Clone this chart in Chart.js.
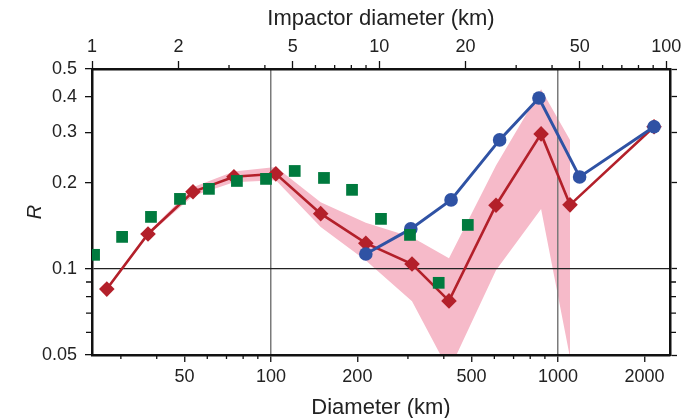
<!DOCTYPE html>
<html>
<head>
<meta charset="utf-8">
<script src="https://cdn.jsdelivr.net/npm/chart.js@4.4.1/dist/chart.umd.min.js"></script>
<style>
  html, body { margin: 0; padding: 0; background: #fff; }
</style>
</head>
<body>
<canvas id="chart" width="686" height="418"></canvas>
<script>
"use strict";

// red diamonds (with line)
const diamondDiameters = [26.8, 37.3, 53.5, 74.3, 104, 149, 214, 310, 417, 608, 873, 1101, 2160];
const diamondValues = [0.085, 0.1325, 0.186, 0.21, 0.215, 0.156, 0.123, 0.104, 0.0773, 0.167, 0.2965, 0.1675, 0.314];

// blue circles (with line)
const circleDiameters = [214, 307, 424, 626, 858, 1189, 2160];
const circleValues = [0.1128, 0.138, 0.1743, 0.2825, 0.396, 0.2097, 0.314];

// green squares (no line)
const squareDiameters = [24.2, 30.3, 38.2, 48.2, 60.8, 76.1, 96.1, 121, 153, 191.6, 241.7, 305, 384, 485];
const squareValues = [0.112, 0.1294, 0.152, 0.1757, 0.1905, 0.203, 0.2064, 0.22, 0.208, 0.189, 0.1496, 0.1315, 0.0894, 0.1425];

// pink range around the red curve
const bandDiameters = [37.3, 53.5, 74.3, 104, 149, 214, 310, 417, 608, 873, 1101];
const bandUpper = [0.134, 0.193, 0.219, 0.227, 0.171, 0.145, 0.129, 0.109, 0.23, 0.425, 0.282];
const bandLower = [0.131, 0.18, 0.201, 0.204, 0.14, 0.107, 0.077, 0.044, 0.099, 0.162, 0.049];

const diameterTicks = [50, 100, 200, 500, 1000, 2000];
const diameterMinorTicks = [30, 40, 60, 70, 80, 90, 300, 400, 600, 700, 800, 900];
const impactorTicks = [1, 2, 5, 10, 20, 50, 100];
const impactorMinorTicks = [3, 4, 6, 7, 8, 9, 30, 40, 60, 70, 80, 90];
const rTicks = [0.05, 0.1, 0.2, 0.3, 0.4, 0.5];
const rMinorTicks = [0.06, 0.07, 0.08, 0.09];

const red = "#b3202a";
const blue = "#2f52a4";
const green = "#007a3e";
const pink = "#f6bac9";
const font = "'Liberation Sans', Arial, sans-serif";

function toPoints(xs, ys) {
  return xs.map((x, i) => ({ x: x, y: ys[i] }));
}

function fixedTicks(values) {
  return scale => {
    scale.ticks = values.map(v => ({ value: v }));
  };
}

function fixedSize(prop, size) {
  return scale => {
    scale[prop] = size;
    scale.paddingLeft = scale.paddingRight = scale.paddingTop = scale.paddingBottom = 0;
  };
}

const minorTicksPlugin = {
  id: "minorTicks",
  afterDraw(chart) {
    const { ctx, chartArea, scales } = chart;
    const len = 4;

    ctx.save();
    ctx.strokeStyle = "#111";
    ctx.lineWidth = 1.3;
    ctx.beginPath();
    for (const v of diameterMinorTicks) {
      const x = scales.x.getPixelForValue(v);
      ctx.moveTo(x, chartArea.bottom);
      ctx.lineTo(x, chartArea.bottom + len);
    }
    for (const v of impactorMinorTicks) {
      const x = scales.x2.getPixelForValue(v);
      ctx.moveTo(x, chartArea.top);
      ctx.lineTo(x, chartArea.top - len);
    }
    for (const v of rMinorTicks) {
      const y = scales.y.getPixelForValue(v);
      ctx.moveTo(chartArea.left, y);
      ctx.lineTo(chartArea.left - len - 2, y);
      ctx.moveTo(chartArea.right, y);
      ctx.lineTo(chartArea.right + len + 2, y);
    }
    ctx.stroke();
    ctx.restore();
  }
};

const tickFont = { family: font, size: 18 };
const titleFont = { family: font, size: 22, lineHeight: 1 };
const borderStyle = { display: true, color: "#111", width: 2.5 };

const chart = new Chart(document.getElementById("chart").getContext("2d"), {
  type: "line",
  data: {
    datasets: [
      {
        data: toPoints(squareDiameters, squareValues),
        showLine: false,
        pointStyle: "rect",
        pointRadius: 8.3,
        pointBackgroundColor: green,
        pointBorderColor: green,
        pointBorderWidth: 0,
        order: 0
      },
      {
        data: toPoints(circleDiameters, circleValues),
        borderColor: blue,
        borderWidth: 3,
        pointStyle: "circle",
        pointRadius: 6.8,
        pointBackgroundColor: blue,
        pointBorderWidth: 0,
        order: 1
      },
      {
        data: toPoints(diamondDiameters, diamondValues),
        borderColor: red,
        borderWidth: 2.6,
        pointStyle: "rectRot",
        pointRadius: 7.8,
        pointBackgroundColor: red,
        pointBorderWidth: 0,
        order: 2
      },
      {
        data: toPoints(bandDiameters, bandUpper),
        borderColor: "rgba(0,0,0,0)",
        borderWidth: 0,
        pointRadius: 0,
        backgroundColor: pink,
        fill: "+1",
        order: 3
      },
      {
        data: toPoints(bandDiameters, bandLower),
        borderColor: "rgba(0,0,0,0)",
        borderWidth: 0,
        pointRadius: 0,
        fill: false,
        order: 4
      }
    ]
  },
  options: {
    responsive: false,
    animation: false,
    devicePixelRatio: 1,
    layout: { padding: 0 },
    plugins: {
      legend: { display: false },
      tooltip: { enabled: false },
      filler: { drawTime: "beforeDraw" }
    },
    scales: {
      x: {
        type: "logarithmic",
        position: "bottom",
        min: 23.8,
        max: 2455,
        afterBuildTicks: fixedTicks(diameterTicks),
        afterFit: fixedSize("height", 63),
        ticks: {
          autoSkip: false,
          maxRotation: 0,
          padding: 4,
          color: "#222",
          font: tickFont,
          callback: v => String(v)
        },
        grid: {
          color: c => (c.tick && (c.tick.value === 100 || c.tick.value === 1000)) ? "#7a7a7a" : "rgba(0,0,0,0)",
          lineWidth: 1.5,
          tickColor: "#111",
          tickLength: 7,
          tickWidth: 1.3
        },
        border: borderStyle,
        title: {
          display: true,
          text: "Diameter (km)",
          color: "#222",
          font: titleFont,
          padding: { top: 0, bottom: -1 }
        }
      },
      x2: {
        type: "logarithmic",
        position: "top",
        min: 1,
        max: 103,
        afterBuildTicks: fixedTicks(impactorTicks),
        afterFit: fixedSize("height", 69),
        ticks: {
          autoSkip: false,
          maxRotation: 0,
          padding: 3,
          color: "#222",
          font: tickFont,
          callback: v => String(v)
        },
        grid: {
          drawOnChartArea: false,
          tickColor: "#111",
          tickLength: 8,
          tickWidth: 1.3
        },
        border: borderStyle,
        title: {
          display: true,
          text: "Impactor diameter (km)",
          color: "#222",
          font: titleFont,
          padding: { top: 8, bottom: 0 }
        }
      },
      y: {
        type: "logarithmic",
        position: "left",
        min: 0.05,
        max: 0.5,
        afterBuildTicks: fixedTicks(rTicks),
        afterFit: fixedSize("width", 92),
        ticks: {
          autoSkip: false,
          padding: 8,
          color: "#222",
          font: tickFont,
          callback: v => String(v)
        },
        grid: {
          color: c => (c.tick && c.tick.value === 0.1) ? "#222" : "rgba(0,0,0,0)",
          lineWidth: 1.3,
          tickColor: "#111",
          tickLength: 7,
          tickWidth: 1.3
        },
        border: borderStyle,
        title: {
          display: true,
          text: "R",
          color: "#222",
          font: { family: font, size: 20, style: "italic", lineHeight: 1 },
          padding: { top: 25, bottom: 0 }
        }
      },
      y2: {
        type: "logarithmic",
        position: "right",
        min: 0.05,
        max: 0.5,
        afterBuildTicks: fixedTicks(rTicks),
        afterFit: fixedSize("width", 16),
        ticks: { display: false },
        grid: {
          drawOnChartArea: false,
          tickColor: "#111",
          tickLength: 7,
          tickWidth: 1.3
        },
        border: borderStyle
      }
    }
  },
  plugins: [minorTicksPlugin]
});
</script>
</body>
</html>
